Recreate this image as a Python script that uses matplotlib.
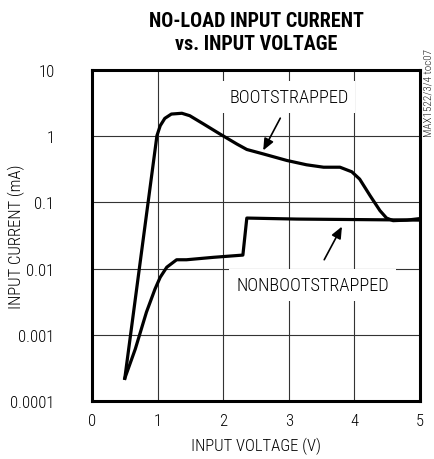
import matplotlib
matplotlib.use('Agg')
import matplotlib.pyplot as plt

plt.rcParams['font.family'] = ['Roboto Condensed', 'DejaVu Sans']
plt.rcParams['font.weight'] = 300
plt.rcParams['axes.labelweight'] = 300

# bootstrapped curve (V, mA)
boot_v = [0.50, 0.99, 1.04, 1.11, 1.21, 1.37, 1.49, 1.70, 1.95, 2.21, 2.36,
          2.61, 2.97, 3.27, 3.53, 3.78, 3.96, 4.08, 4.24, 4.39, 4.49, 4.59,
          4.80, 5.00]
boot_i = [2.2e-4, 1.02, 1.44, 1.86, 2.16, 2.22, 2.04, 1.53, 1.08, 0.76, 0.63,
          0.54, 0.43, 0.37, 0.34, 0.34, 0.29, 0.225, 0.126, 0.075, 0.058,
          0.053, 0.054, 0.057]

# nonbootstrapped curve (V, mA)
nonboot_v = [0.50, 0.66, 0.83, 0.96, 1.04, 1.14, 1.29, 1.44, 1.85, 2.30,
             2.36, 3.12, 5.00]
nonboot_i = [2.2e-4, 6.1e-4, 2.2e-3, 4.9e-3, 7.4e-3, 0.0105, 0.0136, 0.0136,
             0.0148, 0.016, 0.058, 0.056, 0.054]

x_ticks = [0, 1, 2, 3, 4, 5]
y_ticks = [0.0001, 0.001, 0.01, 0.1, 1, 10]
y_labels = ['0.0001', '0.001', '0.01', '0.1', '1', '10']

fig = plt.figure(figsize=(4.34, 4.60), dpi=100)
ax = fig.add_axes([92 / 434, 1 - 402 / 460, 328 / 434, 331 / 460])

ax.plot(boot_v, boot_i, color='black', linewidth=2.3, zorder=4,
        solid_joinstyle='round')
ax.plot(nonboot_v, nonboot_i, color='black', linewidth=2.3, zorder=4,
        solid_joinstyle='round')

ax.set_yscale('log')
ax.set_xlim(0, 5)
ax.set_ylim(0.0001, 10)
ax.set_xticks(x_ticks)
ax.set_xticklabels([str(t) for t in x_ticks])
ax.set_yticks(y_ticks)
ax.set_yticklabels(y_labels)
ax.minorticks_off()
ax.tick_params(length=0, labelsize=12, pad=9)
ax.tick_params(axis='y', pad=27)
ax.grid(True, color='#333333', linewidth=0.8, zorder=1)
for s in ax.spines.values():
    s.set_linewidth(2.2)

ax.set_xlabel('INPUT VOLTAGE (V)', fontsize=12, labelpad=6, fontweight=300)
ax.set_ylabel('INPUT CURRENT (mA)', fontsize=12, fontweight=300)
ax.yaxis.set_label_coords(-0.205, 0.5)

box = dict(facecolor='white', edgecolor='none', pad=5)
ax.text(3.0, 3.85, 'BOOTSTRAPPED', ha='center', va='center', fontsize=13.2,
        bbox=box, zorder=3)
ax.annotate('', xy=(2.59, 0.56), xytext=(2.89, 2.04),
            arrowprops=dict(arrowstyle='-|>,head_length=0.7,head_width=0.3',
                            color='black', linewidth=1.2), zorder=5)
ax.text(3.36, 0.0057, 'NONBOOTSTRAPPED', ha='center', va='center',
        fontsize=13.2, bbox=box, zorder=3)
ax.annotate('', xy=(3.83, 0.047), xytext=(3.52, 0.0125),
            arrowprops=dict(arrowstyle='-|>,head_length=0.7,head_width=0.3',
                            color='black', linewidth=1.2), zorder=5)

fig.text(256 / 434, 1 - 33 / 460, 'NO-LOAD INPUT CURRENT\nvs. INPUT VOLTAGE',
         ha='center', va='center', fontsize=14.5, fontweight='bold',
         linespacing=1.3)
fig.text(428 / 434, 1 - 93 / 460, 'MAX1522/3/4 toc07', rotation=90,
         ha='center', va='center', fontsize=8, color='#222222')

fig.savefig('out.png', dpi=100)
